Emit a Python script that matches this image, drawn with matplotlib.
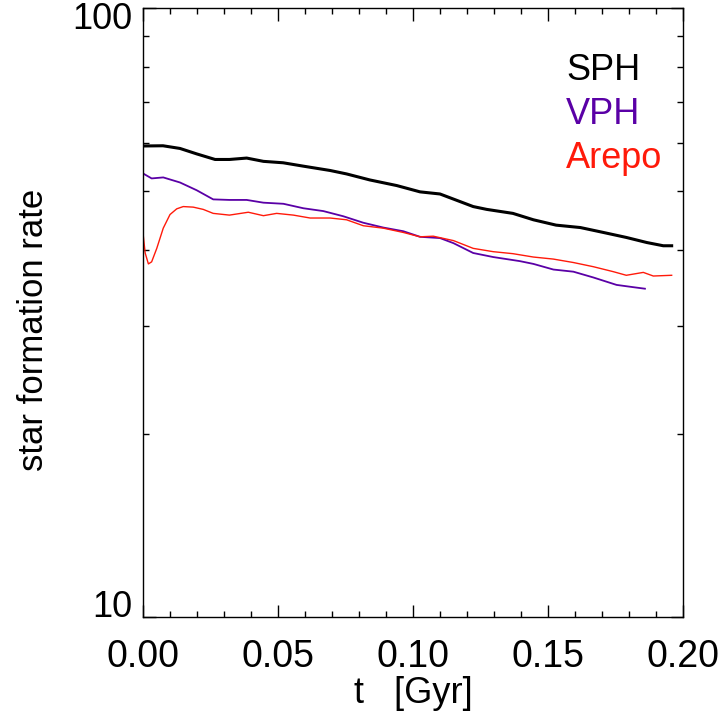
import matplotlib
matplotlib.use("Agg")
import matplotlib.pyplot as plt
from matplotlib.ticker import FixedLocator, MultipleLocator, NullFormatter
from matplotlib.transforms import ScaledTranslation

plt.rcParams['font.family'] = ['Liberation Sans', 'DejaVu Sans']

sph_t = [0.0, 0.0074, 0.0137, 0.0199, 0.0267, 0.032, 0.0384, 0.0446, 0.0519, 0.0593,
         0.0693, 0.0754, 0.084, 0.094, 0.1026, 0.110, 0.1223, 0.1273, 0.137, 0.1446,
         0.153, 0.162, 0.1705, 0.179, 0.1866, 0.1927, 0.1958]
sph_sfr = [59.35, 59.4, 58.8, 57.6, 56.4, 56.4, 56.7, 56.0, 55.7, 55.0,
           54.1, 53.4, 52.2, 51.1, 49.9, 49.5, 47.2, 46.7, 46.0, 44.9,
           44.0, 43.6, 42.8, 42.0, 41.2, 40.7, 40.7]

vph_t = [0.0, 0.0032, 0.0075, 0.0137, 0.0199, 0.026, 0.032, 0.0384, 0.0446, 0.052,
         0.0594, 0.0668, 0.0742, 0.0816, 0.089, 0.0964, 0.1026, 0.110, 0.115, 0.1223,
         0.1297, 0.1396, 0.1446, 0.152, 0.1594, 0.1668, 0.1754, 0.1816, 0.1859]
vph_sfr = [53.5, 52.5, 52.7, 51.7, 50.2, 48.5, 48.4, 48.4, 47.9, 47.7,
           46.9, 46.4, 45.5, 44.4, 43.6, 43.0, 42.1, 41.9, 41.1, 39.6,
           39.0, 38.4, 38.0, 37.2, 36.9, 36.1, 35.1, 34.8, 34.6]

arepo_t = [0.0, 0.0008, 0.002, 0.0032, 0.0051, 0.0075, 0.010, 0.0125, 0.0149, 0.0186,
           0.0223, 0.026, 0.032, 0.039, 0.0446, 0.0495, 0.0557, 0.0619, 0.0693, 0.0754,
           0.0816, 0.089, 0.0964, 0.1026, 0.1075, 0.115, 0.1223, 0.1297, 0.137, 0.1446,
           0.152, 0.1594, 0.1668, 0.1742, 0.179, 0.1853, 0.189, 0.1958]
arepo_sfr = [42.7, 39.6, 38.0, 38.3, 40.3, 43.5, 45.8, 46.8, 47.2, 47.1,
             46.7, 46.0, 45.7, 46.2, 45.6, 46.0, 45.7, 45.2, 45.2, 44.9,
             43.9, 43.5, 42.8, 42.1, 42.2, 41.5, 40.3, 39.8, 39.5, 39.0,
             38.7, 38.2, 37.6, 36.9, 36.4, 36.8, 36.3, 36.4]

series_labels = ['SPH', 'VPH', 'Arepo']
series_colors = ['black', '#5A00A6', '#FF1A0A']
x_ticks = [0.00, 0.05, 0.10, 0.15, 0.20]
x_ticklabels = ['0.00', '0.05', '0.10', '0.15', '0.20']
y_ticks = [10, 100]
y_ticklabels = ['10', '100']

fig = plt.figure(figsize=(7.22, 7.17), dpi=100)
ax = fig.add_axes([143/722, 1 - 617/717, 540/722, 609/717])

ax.plot(sph_t, sph_sfr, color=series_colors[0], lw=2.2)
ax.plot(vph_t, vph_sfr, color=series_colors[1], lw=1.3)
ax.plot(arepo_t, arepo_sfr, color=series_colors[2], lw=1.0)

ax.set_yscale('log')
ax.set_xlim(0, 0.2)
ax.set_ylim(10, 100)
ax.yaxis.set_major_locator(FixedLocator(y_ticks))
ax.yaxis.set_minor_locator(FixedLocator([20, 30, 40, 50, 60, 70, 80, 90]))
ax.yaxis.set_minor_formatter(NullFormatter())
ax.set_yticklabels(y_ticklabels)
ax.set_xticks(x_ticks)
ax.set_xticklabels(x_ticklabels)
ax.xaxis.set_minor_locator(MultipleLocator(0.01))

ax.tick_params(which='both', direction='in', top=True, right=True, width=1.0,
               colors='black')
ax.tick_params(axis='x', which='major', length=9, pad=16, labelsize=27)
ax.tick_params(axis='x', which='minor', length=4.5)
ax.tick_params(axis='y', which='major', length=9, pad=8, labelsize=26)
ax.tick_params(axis='y', which='minor', length=4.5)
for s in ax.spines.values():
    s.set_linewidth(1.0)

ylabs = ax.get_yticklabels()
ylabs[0].set_verticalalignment('baseline')
ylabs[1].set_verticalalignment('top')
ylabs[1].set_transform(ylabs[1].get_transform() +
                       ScaledTranslation(0, 6/100, fig.dpi_scale_trans))

fig.text(413/722, 1 - 703/717, 't   [Gyr]', fontsize=26, ha='center', va='baseline')
fig.text(43/722, 1 - 330/717, 'star formation rate', fontsize=25, rotation=90,
         ha='center', va='baseline', rotation_mode='anchor')

for i, (lab, col) in enumerate(zip(series_labels, series_colors)):
    ax.text(566/722, 1 - (80 + 44 * i) / 717, lab, transform=fig.transFigure,
            color=col, fontsize=26, ha='left', va='baseline')

fig.savefig('out.png', dpi=100)
